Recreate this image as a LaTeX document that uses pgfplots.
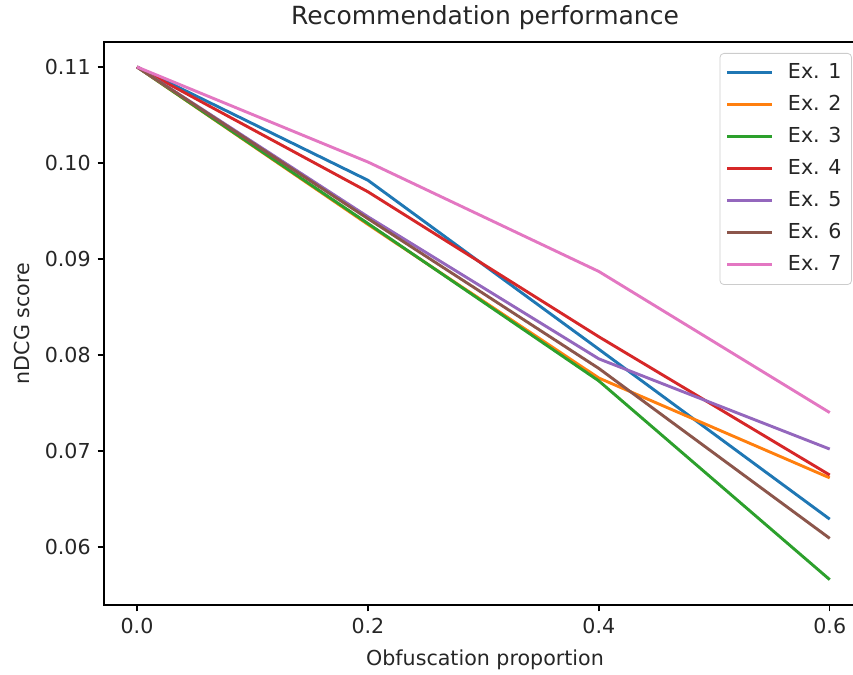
\documentclass[border=0pt]{standalone}
\usepackage{fontspec}
\setmainfont{DejaVu Sans}
\usepackage{pgfplots}
\pgfplotsset{compat=1.18}
\definecolor{c0}{HTML}{1F77B4}
\definecolor{c1}{HTML}{FF7F0E}
\definecolor{c2}{HTML}{2CA02C}
\definecolor{c3}{HTML}{D62728}
\definecolor{c4}{HTML}{9467BD}
\definecolor{c5}{HTML}{8C564B}
\definecolor{c6}{HTML}{E377C2}
\begin{document}
\begin{tikzpicture}
\begin{axis}[
  scale only axis,
  width=381pt, height=281.5pt,
  xmin=-0.0286, xmax=0.6314,
  ymin=0.05396, ymax=0.1126,
  axis line style={line width=0.72pt},
  tick align=outside,
  major tick length=3.15pt,
  tick style={black, line width=0.72pt},
  xtick={0,0.2,0.4,0.6},
  ytick={0.06,0.07,0.08,0.09,0.10,0.11},
  xtick pos=bottom, ytick pos=left,
  xticklabel style={/pgf/number format/.cd, fixed, fixed zerofill, precision=1, assume math mode=true},
  yticklabel style={/pgf/number format/.cd, fixed, fixed zerofill, precision=2, assume math mode=true},
  tick label style={font=\fontsize{10.3}{12}\selectfont, text=black!85},
  label style={font=\fontsize{10.3}{12}\selectfont, text=black!85},
  xlabel={Obfuscation proportion},
  ylabel={nDCG score},
  xlabel style={at={(axis description cs:0.5,-0.0977)}, anchor=center},
  ylabel style={at={(axis description cs:-0.1076,0.5)}, anchor=center, rotate=0},
  title={Recommendation performance},
  every axis title shift=0pt,
  title style={font=\fontsize{12.5}{14}\selectfont, text=black!85, at={(axis description cs:0.5,1.0426)}, anchor=center},
  legend cell align=left,
  legend style={at={(axis description cs:0.9816,0.9805)}, anchor=north east,
    draw=black!20, rounded corners=2pt,
    font=\fontsize{10.3}{12}\selectfont, text=black!85,
    nodes={inner sep=2pt, text height=7.6pt, text depth=2pt},
    row sep=2.4pt, inner xsep=3pt, inner ysep=3pt},
  legend image post style={line width=1.5pt},
  legend image code/.code={\draw[#1, line width=1.5pt] (0pt,0pt) -- (22.5pt,0pt); \path (27.5pt,0pt);},
  every axis plot/.append style={line width=1.45pt},
]
\addplot[c0] coordinates {(0,0.110) (0.2,0.0982) (0.4,0.0806) (0.6,0.0629)};
\addlegendentry{Ex. 1}
\addplot[c1] coordinates {(0,0.110) (0.2,0.0936) (0.4,0.0776) (0.6,0.0672)};
\addlegendentry{Ex. 2}
\addplot[c2] coordinates {(0,0.110) (0.2,0.0937) (0.4,0.0773) (0.6,0.0566)};
\addlegendentry{Ex. 3}
\addplot[c3] coordinates {(0,0.110) (0.2,0.0970) (0.4,0.0819) (0.6,0.0675)};
\addlegendentry{Ex. 4}
\addplot[c4] coordinates {(0,0.110) (0.2,0.0944) (0.4,0.0796) (0.6,0.0702)};
\addlegendentry{Ex. 5}
\addplot[c5] coordinates {(0,0.110) (0.2,0.0942) (0.4,0.0786) (0.6,0.0609)};
\addlegendentry{Ex. 6}
\addplot[c6] coordinates {(0,0.110) (0.2,0.1001) (0.4,0.0887) (0.6,0.0740)};
\addlegendentry{Ex. 7}
\end{axis}
\pgfresetboundingbox
\useasboundingbox (-52pt,-35pt) rectangle (374.5pt,302.5pt);
\end{tikzpicture}
\end{document}
